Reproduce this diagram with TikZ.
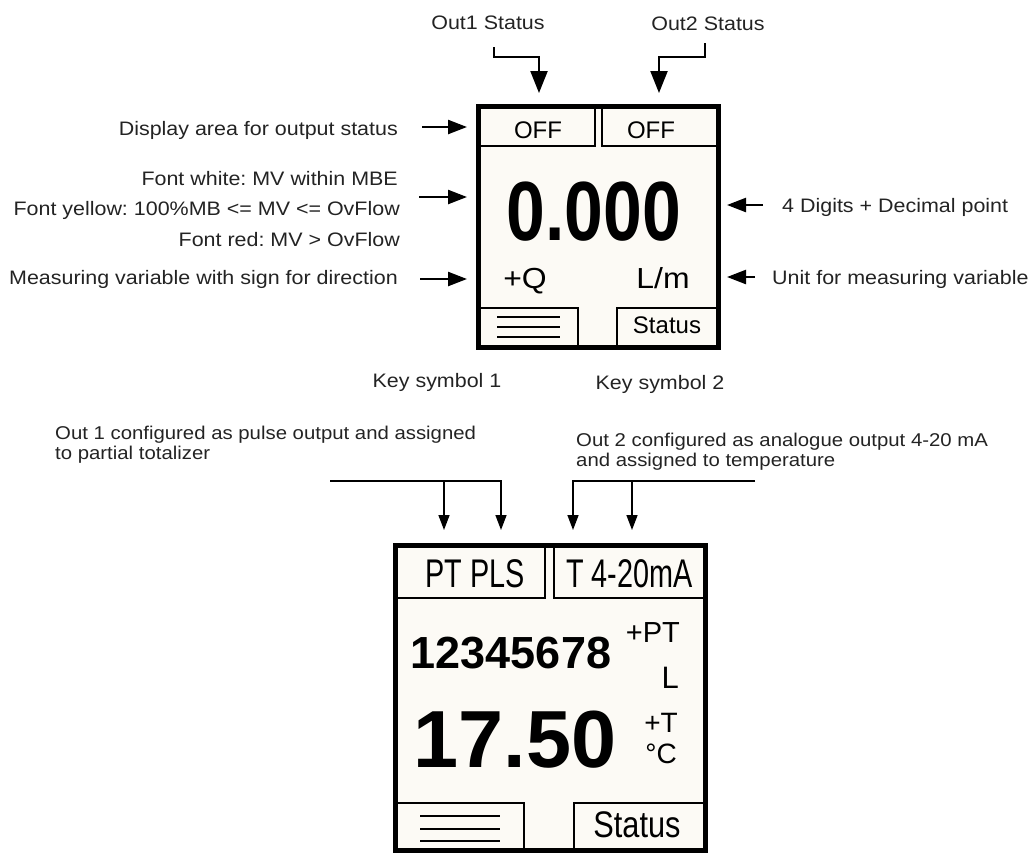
\documentclass[tikz,border=0pt]{standalone}
\usepackage{fontspec}
\setmainfont{Liberation Sans}
\newfontfamily\lblfont[FakeStretch=1.1]{Liberation Sans}
\newfontfamily\narrowfont[FakeStretch=0.72]{Liberation Sans}
\newfontfamily\numfont[FakeStretch=0.83]{Liberation Sans}
\definecolor{ScreenCream}{RGB}{252,250,245}
\definecolor{LabelGray}{RGB}{35,35,35}
\usetikzlibrary{arrows.meta, positioning}
\frenchspacing

\begin{document}
\begin{tikzpicture}[x=1pt, y=-1pt,
    lbl/.style={font=\lblfont\fontsize{19.5}{21}\selectfont, text=LabelGray, inner sep=0pt},
    dsc/.style={font=\lblfont\fontsize{18.5}{20}\selectfont, text=LabelGray, inner sep=0pt, align=left},
    screen/.style={fill=ScreenCream, draw=black, line width=5pt},
    tabbox/.style={draw=black, line width=1.6pt},
    dtxt/.style={inner sep=0pt},
    bigtip/.style={-{Triangle[length=22pt, width=17pt]}, line width=2.2pt},
    midtip/.style={-{Triangle[length=19pt, width=14pt]}, line width=2.4pt},
    smalltip/.style={-{Triangle[length=15pt, width=11pt]}, line width=1.5pt}]
  \clip (0,0) rectangle (1030,852);
  \useasboundingbox (0,0) rectangle (1030,852);

  % upper display
  \draw[screen] (478.5,106) rectangle (718.5,347.5);
  \draw[tabbox] (478.5,106) rectangle (595,146);
  \draw[tabbox] (602,106) rectangle (718.5,146);
  \draw[tabbox] (478.5,308) rectangle (578,347.5);
  \draw[tabbox] (617,308) rectangle (718.5,347.5);
  \foreach \y in {317,327,337}
    \draw[line width=1.8pt] (497,\y) -- (560,\y);

  \node[dtxt, anchor=base, font=\fontsize{24}{24}\selectfont] (off1) at (538,138.6) {OFF};
  \node[dtxt, anchor=base, font=\fontsize{24}{24}\selectfont] (off2) at (651,138.6) {OFF};
  \node[dtxt, anchor=base, font=\numfont\bfseries\fontsize{84}{84}\selectfont] (mv) at (594,240) {0.000};
  \node[dtxt, anchor=base, font=\lblfont\fontsize{29}{29}\selectfont] (sign) at (525,288) {+Q};
  \node[dtxt, anchor=base, font=\lblfont\fontsize{29}{29}\selectfont] (unit) at (663,288) {L/m};
  \node[dtxt, anchor=base, font=\fontsize{24}{24}\selectfont] (stat1) at (667,333.6) {Status};

  % labels round the upper display
  \node[lbl, anchor=base] (out1Lbl) at (488,29) {Out1 Status};
  \node[lbl, anchor=base] (out2Lbl) at (708,30) {Out2 Status};
  \node[lbl, anchor=base east] (areaLbl) at (398,135) {Display area for output status};
  \node[lbl, anchor=base east] (whiteLbl) at (398,185) {Font white: MV within MBE};
  \node[lbl, anchor=base east] (yellowLbl) at (400,215) {Font yellow: 100\%MB <= MV <= OvFlow};
  \node[lbl, anchor=base east] (redLbl) at (400,246) {Font red: MV > OvFlow};
  \node[lbl, anchor=base east] (signLbl) at (398,284) {Measuring variable with sign for direction};
  \node[lbl, anchor=base west] (digitLbl) at (782,212) {4 Digits + Decimal point};
  \node[lbl, anchor=base west] (unitLbl) at (772,284) {Unit for measuring variable};
  \node[lbl, anchor=base] (key1Lbl) at (437,387) {Key symbol 1};
  \node[lbl, anchor=base] (key2Lbl) at (660,389) {Key symbol 2};

  \coordinate (s1top) at (494,47);
  \coordinate (s1bend) at (494,57);
  \coordinate (s1tip) at (539,93);
  \coordinate (s2top) at (705,43);
  \coordinate (s2bend) at (705,57);
  \coordinate (s2tip) at (659,93);
  \draw[bigtip] (s1top) -- (s1bend) -| (s1tip);
  \draw[bigtip] (s2top) -- (s2bend) -| (s2tip);

  \coordinate (areaTail) at (422,127);
  \coordinate (areaHead) at (467,127);
  \coordinate (fontTail) at (419,197);
  \coordinate (fontHead) at (467,197);
  \coordinate (signTail) at (420,279);
  \coordinate (signHead) at (467,279);
  \coordinate (digitTail) at (763,205);
  \coordinate (digitHead) at (727,205);
  \coordinate (unitTail) at (755,277);
  \coordinate (unitHead) at (727,277);
  \draw[midtip] (areaTail) -- (areaHead);
  \draw[midtip] (fontTail) -- (fontHead);
  \draw[midtip] (signTail) -- (signHead);
  \draw[midtip] (digitTail) -- (digitHead);
  \draw[midtip] (unitTail) -- (unitHead);

  % lower display
  \draw[screen] (395,545) rectangle (705,850);
  \draw[tabbox] (395,545) rectangle (545,598);
  \draw[tabbox] (554,545) rectangle (705,598);
  \draw[tabbox] (395,803) rectangle (524,850);
  \draw[tabbox] (574,803) rectangle (705,850);
  \foreach \y in {816,829,841}
    \draw[line width=1.8pt] (420,\y) -- (500,\y);

  \node[dtxt, anchor=base, font=\narrowfont\fontsize{40}{40}\selectfont] (pls) at (475,587) {PT PLS};
  \node[dtxt, anchor=base, font=\narrowfont\fontsize{40}{40}\selectfont] (ma) at (629.5,587) {T 4-20mA};
  \node[dtxt, anchor=base, font=\bfseries\fontsize{45}{45}\selectfont] (total) at (511,668) {12345678};
  \node[dtxt, anchor=base east, font=\fontsize{29}{29}\selectfont] (ptSign) at (680,642) {+PT};
  \node[dtxt, anchor=base east, font=\fontsize{31}{31}\selectfont] (ptUnit) at (679,688) {L};
  \node[dtxt, anchor=base, font=\bfseries\fontsize{81}{81}\selectfont] (temp) at (515,767) {17.50};
  \node[dtxt, anchor=base east, font=\fontsize{28}{28}\selectfont] (tSign) at (678,732) {+T};
  \node[dtxt, anchor=base east, font=\fontsize{28}{28}\selectfont] (tUnit) at (677,763) {°C};
  \node[dtxt, anchor=base, font=\numfont\fontsize{37}{37}\selectfont] (stat2) at (637,837) {Status};

  \node[dsc, anchor=north west] (out1Dsc) at (55,425.5)
    {Out 1 configured as pulse output and assigned\\to partial totalizer};
  \node[dsc, anchor=north west] (out2Dsc) at (576,433)
    {Out 2 configured as analogue output 4-20 mA\\and assigned to temperature};

  \coordinate (out1Bar) at (330,481);
  \coordinate (pls1) at (444,530);
  \coordinate (pls2) at (501,530);
  \coordinate (out2Bar) at (755,481);
  \coordinate (ma1) at (573,530);
  \coordinate (ma2) at (632,530);
  \draw[smalltip] (out1Bar) -| (pls2);
  \draw[smalltip] (pls1 |- out1Bar) -- (pls1);
  \draw[smalltip] (out2Bar) -| (ma1);
  \draw[smalltip] (ma2 |- out2Bar) -- (ma2);
\end{tikzpicture}
\end{document}
